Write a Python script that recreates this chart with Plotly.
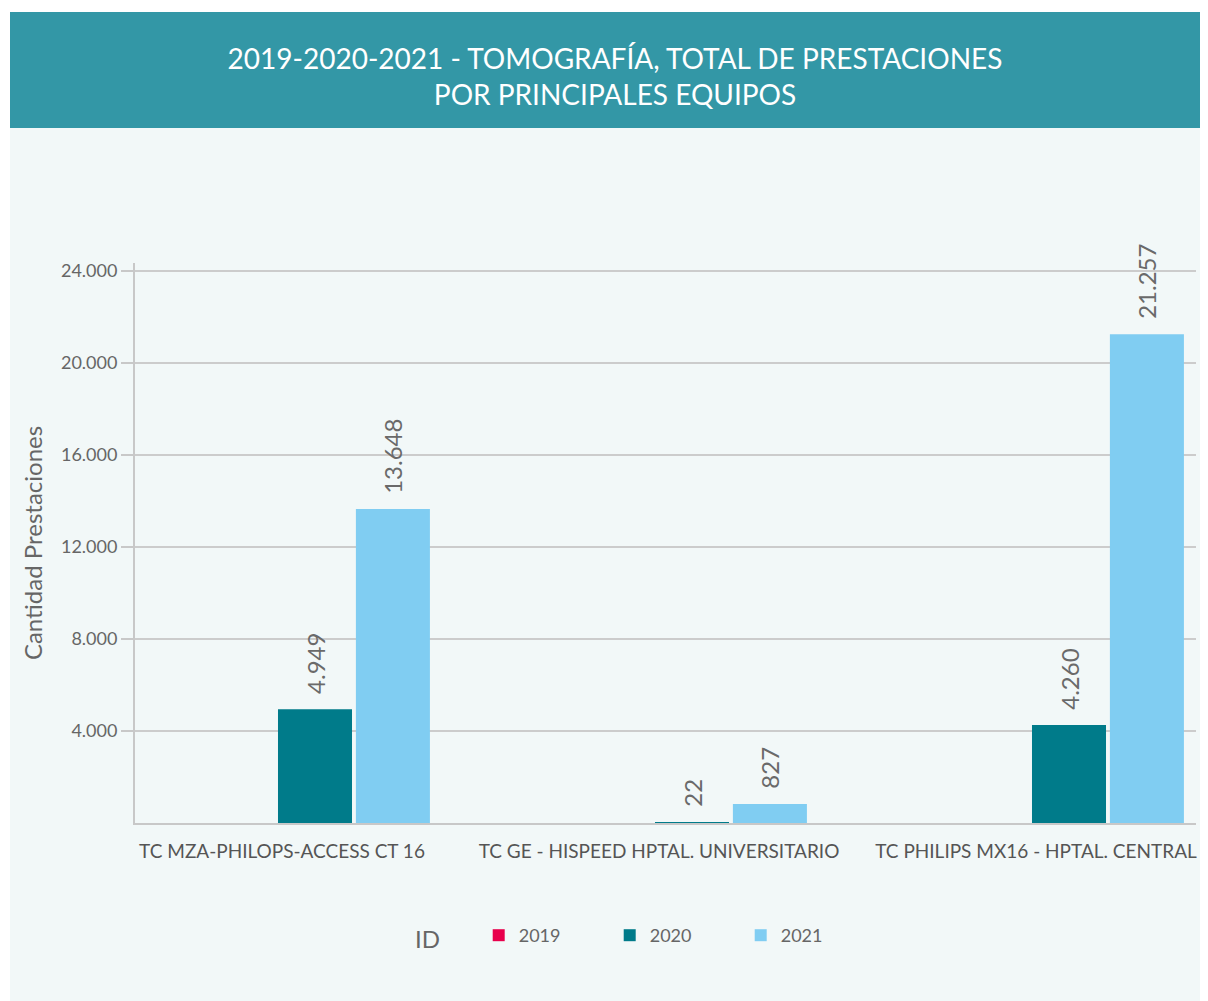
import plotly.graph_objects as go

categories = ["TC MZA-PHILOPS-ACCESS CT 16",
              "TC GE - HISPEED HPTAL. UNIVERSITARIO",
              "TC PHILIPS MX16 - HPTAL. CENTRAL"]
series_names = ["2019", "2020", "2021"]
v2019 = [None, None, None]
v2020 = [4949, 22, 4260]
v2021 = [13648, 827, 21257]
y_ticks = [4000, 8000, 12000, 16000, 20000, 24000]

colors = {"2019": "#e8004c", "2020": "#007b8a", "2021": "#80cdf2"}

OFF = 8  # browser body margin
W, H = 1200, 993
L, R, T, B = 127, 12, 255, 178
pw, ph = W - L - R, H - T - B
SLOT = 377


def px(xr):
    return (xr - OFF - L) / pw


def py(yr):
    return (H - B - (yr - OFF)) / ph


fig = go.Figure()
for name, vals in zip(series_names, [v2019, v2020, v2021]):
    fig.add_trace(go.Bar(
        x=categories, y=vals, name=name,
        marker=dict(color=colors[name], line=dict(width=0)),
        texttemplate="\u00a0\u00a0%{y:,}",
        textposition="outside", textangle=-90,
        textfont=dict(family="Lato", size=24, color="#6a6a6a"),
        constraintext="none", cliponaxis=False,
    ))

shapes = [
    dict(type="rect", xref="paper", yref="paper", x0=px(0), x1=px(1220), y0=py(12), y1=py(0),
         fillcolor="white", line=dict(width=0), layer="below"),
    dict(type="rect", xref="paper", yref="paper", x0=px(0), x1=px(10), y0=py(1010), y1=py(0),
         fillcolor="white", line=dict(width=0), layer="below"),
    dict(type="rect", xref="paper", yref="paper", x0=px(10), x1=px(1220), y0=py(128), y1=py(12),
         fillcolor="#3397a6", line=dict(width=0), layer="below"),
]

fig.update_layout(
    width=W, height=H,
    margin=dict(l=L, r=R, t=T, b=B, pad=0),
    paper_bgcolor="#f2f8f8", plot_bgcolor="rgba(0,0,0,0)",
    font=dict(family="Lato", color="#666666"),
    separators=",.",
    barmode="group", bargap=0.38, bargroupgap=0.05,
    shapes=shapes,
    title=dict(text="2019-2020-2021 - TOMOGRAFÍA, TOTAL DE PRESTACIONES<br>POR PRINCIPALES EQUIPOS",
               x=(615 - OFF) / W, xanchor="center", y=1 - (69 - OFF) / H, yanchor="middle",
               yref="container",
               font=dict(family="Lato", size=28, color="white")),
    xaxis=dict(range=[-(315 - OFF - L) / SLOT, 2 + (W - R - (1069 - OFF)) / SLOT],
               showgrid=False, showline=True, linecolor="#c8c8c8", linewidth=2,
               ticks="", ticklabelstandoff=10, ticklabelshift=-33,
               tickfont=dict(family="Lato", size=19, color="#555555")),
    yaxis=dict(range=[0, 24350], tickvals=y_ticks, tickformat=",",
               showgrid=True, gridcolor="#cccccc", gridwidth=1.5,
               showline=True, linecolor="#c8c8c8", linewidth=2,
               ticks="outside", ticklen=12, tickcolor="#c8c8c8", tickwidth=1.5,
               zeroline=False,
               tickfont=dict(family="Lato", size=18, color="#666666"),
               title=dict(text="Cantidad Prestaciones", standoff=12,
                          font=dict(family="Lato", size=24, color="#666666"))),
    legend=dict(orientation="h", x=px(413), xanchor="left", y=py(917), yanchor="top",
                bgcolor="rgba(0,0,0,0)", entrywidth=86,
                title=dict(text="ID\u00a0\u00a0\u00a0\u00a0\u00a0",
                           font=dict(family="Lato", size=24, color="#666666")),
                font=dict(family="Lato", size=18, color="#666666")),
)

fig.write_html("out.html")
